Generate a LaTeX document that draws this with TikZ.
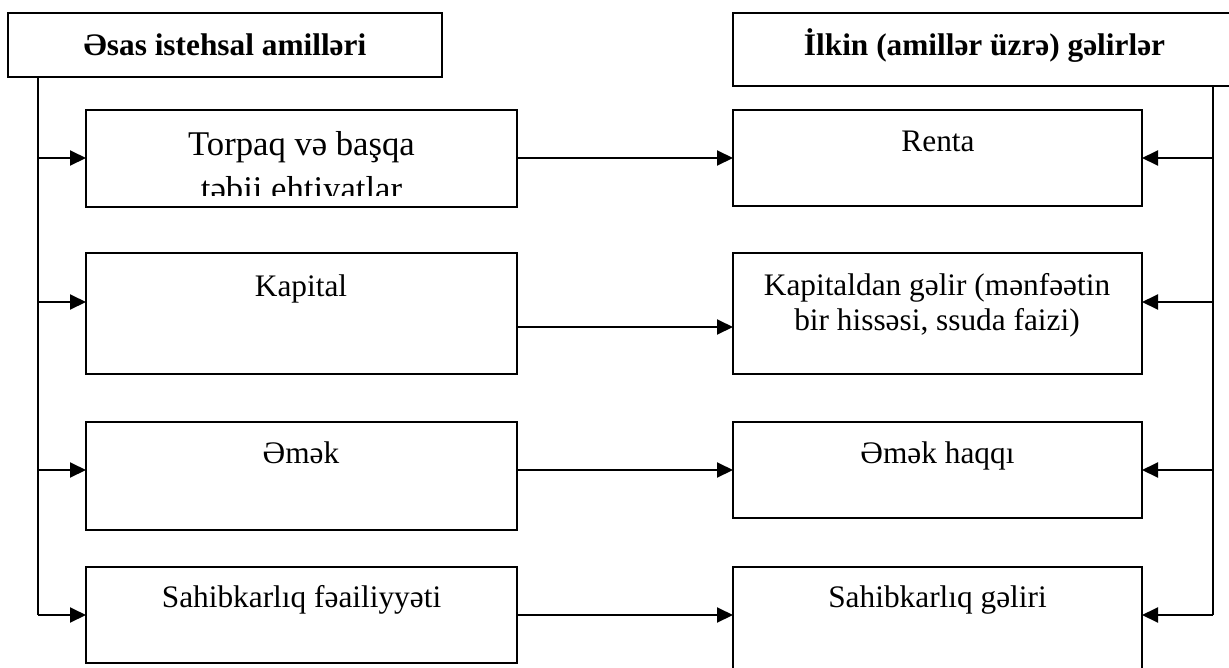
\documentclass[tikz,border=0pt]{standalone}
\usepackage{fontspec}
\setmainfont{Liberation Serif}
\usetikzlibrary{arrows.meta}
\tikzset{
  box/.style={draw, line width=1.5pt, inner sep=0pt, outer sep=0pt, fill=white},
  txt/.style={inner sep=0pt, anchor=base, font=\fontsize{23.5}{26.25}\selectfont, align=center},
  head/.style={inner sep=0pt, anchor=base, font=\bfseries\fontsize{23.5}{26.25}\selectfont},
  bigtxt/.style={inner sep=0pt, anchor=base, font=\fontsize{26}{33.75}\selectfont, align=center},
  conn/.style={line width=1.5pt},
  arr/.style={line width=1.5pt, -{Triangle[length=12pt,width=11.25pt]}}
}
\begin{document}
\begin{tikzpicture}[x=0.75pt,y=-0.75pt]
\path[use as bounding box, fill=white] (0,0) rectangle (1229,668);
\clip (0,0) rectangle (1229,668);
% header boxes
\node[box, minimum width=325.5pt, minimum height=48pt] (LH) at (225,45) {};
\node[head] (LHt) at (225,55) {Əsas istehsal amilləri};
\node[box, minimum width=380.25pt, minimum height=54.75pt] (RH) at (986.5,49.5) {};
\node[head] (RHt) at (984.5,55) {İlkin (amillər üzrə) gəlirlər};
% left column
\node[box, minimum width=323.25pt, minimum height=72.75pt] (L1) at (301.5,158.5) {};
\node[box, minimum width=323.25pt, minimum height=90.75pt] (L2) at (301.5,313.5) {};
\node[box, minimum width=323.25pt, minimum height=81pt] (L3) at (301.5,476) {};
\node[box, minimum width=323.25pt, minimum height=72pt] (L4) at (301.5,615) {};
% right column
\node[box, minimum width=306.75pt, minimum height=72pt] (R1) at (937.5,158) {};
\node[box, minimum width=306.75pt, minimum height=90.75pt] (R2) at (937.5,313.5) {};
\node[box, minimum width=306.75pt, minimum height=72pt] (R3) at (937.5,470) {};
\node[box, minimum width=306.75pt, minimum height=99.75pt] (R4) at (937.5,633.5) {};
% texts
\begin{scope}
\clip (86,110) rectangle (517,195);
\node[bigtxt] (L1t) at (301.5,200) {Torpaq və başqa\\ təbii ehtiyatlar};
\end{scope}
\node[txt] (L2t) at (301,296) {Kapital};
\node[txt] (L3t) at (301,463) {Əmək};
\node[txt] (L4t) at (301.5,607) {Sahibkarlıq fəailiyyəti};
\node[txt] (R1t) at (938,151) {Renta};
\node[txt] (R2t) at (937,330) {Kapitaldan gəlir (mənfəətin\\ bir hissəsi, ssuda faizi)};
\node[txt] (R3t) at (937.5,463) {Əmək haqqı};
\node[txt] (R4t) at (937.5,607) {Sahibkarlıq gəliri};
% junction coordinates
\coordinate (a1) at (38,158);
\coordinate (a2) at (38,302);
\coordinate (a3) at (38,470);
\coordinate (a4) at (38,615);
\coordinate (b1) at (1213,158);
\coordinate (b2) at (1213,302);
\coordinate (b3) at (1213,470);
\coordinate (b4) at (1213,615);
\coordinate (m1) at (0,158);
\coordinate (m2) at (0,327);
\coordinate (m3) at (0,470);
\coordinate (m4) at (0,615);
% left trunk
\draw[conn] (LH.south -| a1) -- (a4);
\draw[arr] (a1) -- (L1.west |- a1);
\draw[arr] (a2) -- (L2.west |- a2);
\draw[arr] (a3) -- (L3.west |- a3);
\draw[arr] (a4) -- (L4.west |- a4);
% right trunk
\draw[conn] (RH.south -| b1) -- (b4);
\draw[arr] (b1) -- (R1.east |- b1);
\draw[arr] (b2) -- (R2.east |- b2);
\draw[arr] (b3) -- (R3.east |- b3);
\draw[arr] (b4) -- (R4.east |- b4);
% middle arrows
\draw[arr] (L1.east |- m1) -- (R1.west |- m1);
\draw[arr] (L2.east |- m2) -- (R2.west |- m2);
\draw[arr] (L3.east |- m3) -- (R3.west |- m3);
\draw[arr] (L4.east |- m4) -- (R4.west |- m4);
\end{tikzpicture}
\end{document}
